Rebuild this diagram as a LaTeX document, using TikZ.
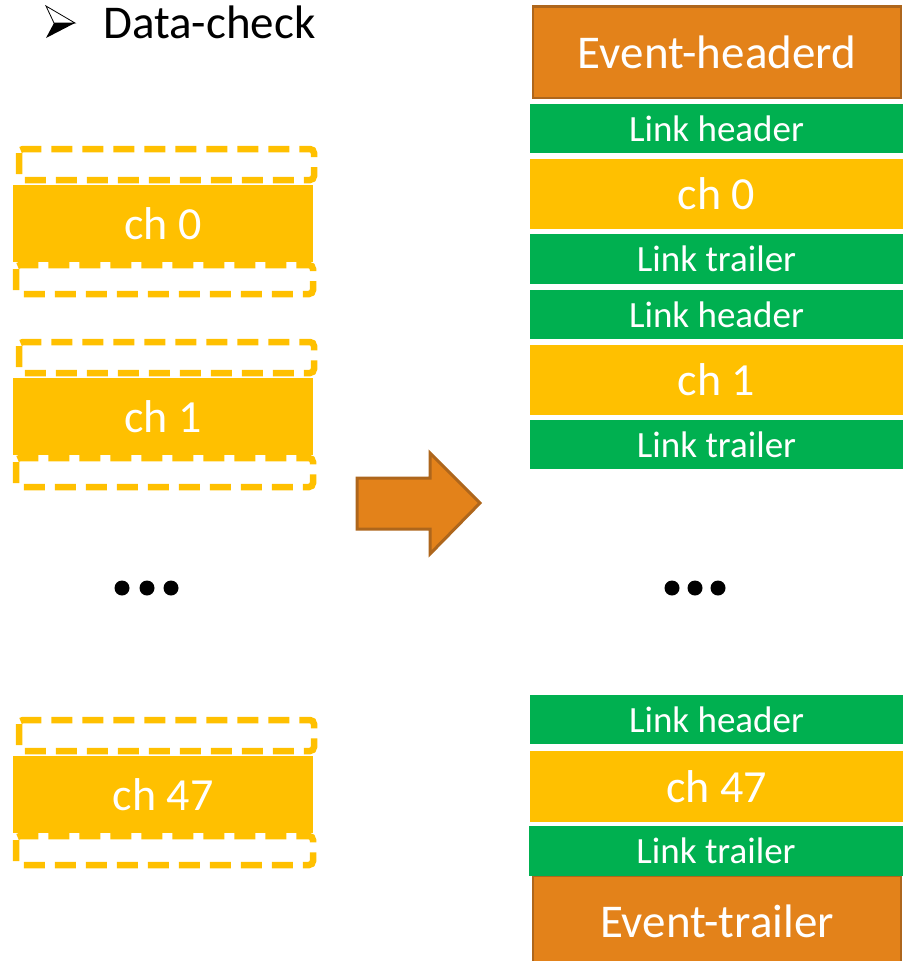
\documentclass[tikz,border=0pt]{standalone}
\usepackage{fontspec}
\setmainfont{Carlito}
\definecolor{orng}{HTML}{E3821A}
\definecolor{orngdk}{HTML}{AE661C}
\definecolor{yel}{HTML}{FFC000}
\definecolor{grn}{HTML}{00B050}
\tikzset{
  blk/.style={inner sep=0pt, outer sep=0pt, minimum width=373pt, text=white},
  lnk/.style={blk, fill=grn, minimum height=49pt, font=\fontsize{37}{40}\selectfont},
  chr/.style={blk, fill=yel, minimum height=70pt, font=\fontsize{46}{50}\selectfont},
  evb/.style={blk, fill=orng, draw=orngdk, line width=2.5pt, minimum width=368pt, font=\fontsize{47}{50}\selectfont},
  chl/.style={inner sep=0pt, outer sep=0pt, fill=yel, text=white, minimum width=300pt, minimum height=77pt, font=\fontsize{46}{50}\selectfont},
  dashbox/.style={draw=yel, line width=6.5pt, dash pattern=on 21pt off 10pt, rounded corners=4pt},
  dotnode/.style={circle, fill=black, inner sep=0pt, minimum size=15pt},
  bigarrow/.style={fill=orng, draw=orngdk, line width=3pt, line join=miter}
}
\begin{document}
\begin{tikzpicture}[x=1pt,y=-1pt]
\useasboundingbox (0,0) rectangle (903,961);

% title with bullet
\filldraw[fill=white, draw=black, line width=0.8pt, line join=miter] (46,6) -- (75,23) -- (54,23) -- cycle;
\fill[black] (54,23) -- (75,23) -- (46,38) -- cycle;
\node[anchor=base west, inner sep=0pt, font=\fontsize{47}{50}\selectfont] (title) at (103,38) {Data-check};

% left column groups
\foreach \dy/\n in {0/0, 193/1, 571/47}{
  \begin{scope}[shift={(0,\dy)}]
    \node[chl] (l\n) at (163,223.5) {ch \n};
    \draw[dashbox] (19,149) rectangle (314,180);
    \draw[dashbox] (16,265) rectangle (313,294);
  \end{scope}
}

% dots
\node[dotnode] (dl1) at (122,588) {};
\node[dotnode] (dl2) at (147,588) {};
\node[dotnode] (dl3) at (171,588) {};
\node[dotnode] (dr1) at (672,588) {};
\node[dotnode] (dr2) at (695,588) {};
\node[dotnode] (dr3) at (718,588) {};

% big arrow
\draw[bigarrow] (357,478) -- (430,478) -- (430,453) -- (480,503) -- (430,554) -- (430,529) -- (357,529) -- cycle;

% right column
\node[evb, minimum height=91.5pt] (evh) at (717,52) {Event-headerd};
\node[lnk] (lh0) at (716.5,128.5) {Link header};
\node[chr] (c0) at (716.5,194) {ch 0};
\node[lnk, minimum height=50pt] (lt0) at (716.5,259) {Link trailer};
\node[lnk] (lh1) at (716.5,314.5) {Link header};
\node[chr] (c1) at (716.5,380) {ch 1};
\node[lnk] (lt1) at (716.5,444.5) {Link trailer};
\node[lnk] (lh47) at (716.5,719.5) {Link header};
\node[chr, minimum height=71pt] (c47) at (716.5,786.5) {ch 47};
\node[evb, minimum height=90pt] (evt) at (717,921) {Event-trailer};
\node[lnk, minimum height=50pt, minimum width=374pt] (lt47) at (716,851) {Link trailer};
\end{tikzpicture}
\end{document}
